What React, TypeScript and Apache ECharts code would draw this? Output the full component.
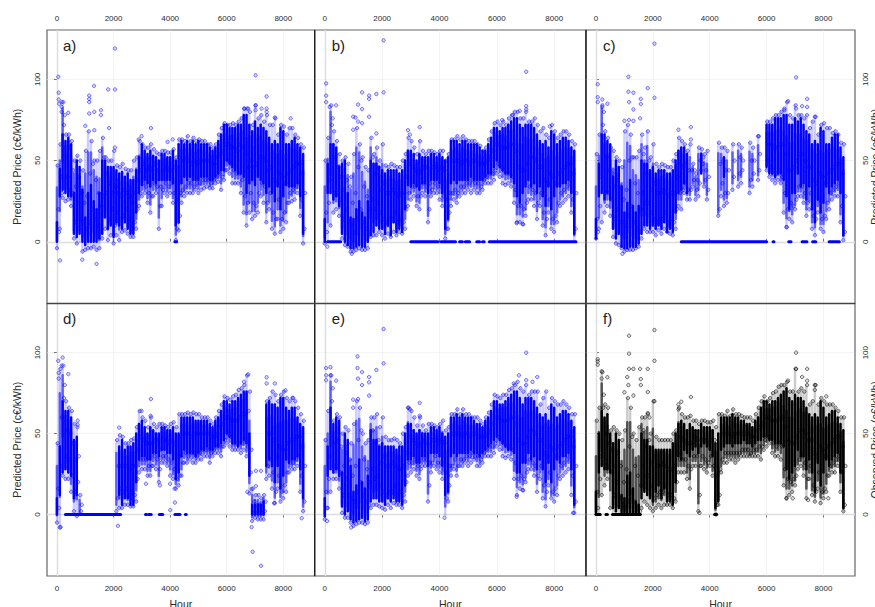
import React, { useEffect, useRef } from "react";
import * as echarts from "echarts";

const xTicks = [0, 2000, 4000, 6000, 8000];
const yTicks = [0, 50, 100];
const panelNames = ["a)", "b)", "c)", "d)", "e)", "f)"];
const coreStep = 100;
const fringeStep = 25;

// dense core of each panel: low and high edge of the solid band, one pair per 100 hours
const coreLoA = [0,28,32,30,28,28,5,3,5,0, -2,0,0,0,0,2,5,15,8,10, 3,12,10,8,12,8,5,5,18,30, 35,38,36,34,38,36,38,38,38,38, 38,36,10,12,36,40,38,40,38,38, 38,40,40,40,38,38,40,42,44,44, 50,48,46,44,42,42,40,30,36,38, 35,40,38,36,30,34,30,25,34,20, 28,35,34,34,34,36,28,5];
const coreHiA = [12,45,66,62,64,60,30,50,46,32, 15,30,35,25,20,30,50,50,46,46, 46,44,42,43,40,42,38,38,44,52, 60,56,54,56,53,52,50,54,54,52, 52,56,50,60,62,60,62,60,62,60, 62,60,60,60,58,56,58,62,66,72, 72,70,70,70,72,72,78,78,72,68, 74,70,72,70,68,64,60,62,60,70, 68,60,60,62,64,60,58,54];
const coreLoB = [0,30,30,26,28,22,5,0,-2,-4, -4,-3,-2,-3,-3,0,4,6,10,8, 8,5,10,4,12,6,8,6,20,35, 34,36,34,32,36,36,30,38,38,38, 36,30,8,14,36,38,36,38,38,38, 38,40,38,38,38,38,40,42,42,46, 50,46,44,42,42,40,36,28,24,30, 34,38,34,36,30,34,28,22,34,20, 28,34,34,36,36,38,30,5];
const coreHiB = [14,48,60,60,58,46,48,50,30,15, 14,20,25,18,15,25,50,48,48,46, 44,42,44,44,44,44,42,44,50,56, 56,54,50,54,52,52,52,54,54,52, 54,52,50,52,62,62,62,60,62,62, 60,60,60,60,58,56,56,60,64,70, 70,68,70,70,72,74,76,76,72,70, 72,72,72,70,66,62,60,62,58,68, 66,60,62,64,64,62,58,56];
const coreLoC = [2,28,30,26,30,26,8,2,5,-3, -4,-4,-3,-3,-3,-1,5,10,10,8, 10,8,10,8,12,6,8,6,18,30, 32,36,30,0,0,0,0,42,0,0, 0,0,0,0,0,40,0,0,0,0, 0,0,0,0,0,0,0,0,0,0, 46,42,42,40,42,42,38,28,20,30, 30,42,34,36,26,34,20,12,26,18, 24,34,30,34,36,38,30,4];
const coreHiC = [14,48,66,66,62,60,40,50,46,34, 18,24,38,22,18,22,50,48,48,44, 46,42,44,44,44,42,42,44,50,56, 58,58,54,0,0,0,0,54,0,0, 0,0,0,0,0,52,0,0,0,0, 0,0,0,0,0,0,0,0,0,0, 72,72,72,76,76,76,78,78,72,72, 76,74,76,72,68,66,60,62,60,70, 68,60,60,64,66,66,58,52];
const coreLoD = [0,12,26,28,26,24,10,12,0,0, 0,0,0,0,0,0,0,0,0,0, 0,0,12,6,10,10,6,6,20,34, 36,36,34,34,38,38,36,40,40,38, 38,34,22,26,36,40,38,38,38,36, 38,40,40,42,40,40,42,42,44,46, 50,48,44,44,42,44,46,44,24,0, 0,0,0,0,30,34,30,20,30,16, 24,34,32,34,34,36,28,10];
const coreHiD = [10,42,70,64,64,60,46,48,0,0, 0,0,0,0,0,0,0,0,0,0, 0,0,42,46,40,42,42,44,50,56, 58,54,50,54,52,50,50,54,54,52, 52,54,50,50,60,60,60,60,60,58, 58,58,58,58,56,54,58,60,64,70, 70,68,70,70,72,74,76,76,50,6, 6,6,6,8,68,70,68,68,66,72, 72,66,64,66,66,60,56,54];
const coreLoE = [-1,24,28,26,28,24,5,0,2,-3, -5,-4,-3,-2,-4,-3,8,10,10,8, 8,6,10,8,10,8,8,6,18,34, 34,36,32,32,36,36,30,38,38,38, 36,30,12,14,36,38,36,38,38,38, 38,40,38,38,36,38,40,42,44,46, 48,46,44,42,40,40,38,26,26,32, 32,38,34,36,28,34,28,20,32,20, 28,34,32,36,36,38,28,6];
const coreHiE = [10,42,66,56,60,58,26,50,46,30, 14,18,34,20,16,24,52,46,46,42, 44,42,42,42,42,40,42,42,50,56, 56,52,50,52,50,50,50,54,54,52, 54,50,48,50,60,60,62,60,62,60, 60,60,58,56,56,54,58,60,64,70, 70,68,68,70,72,74,76,76,72,68, 72,72,72,70,66,62,60,62,58,68, 66,60,62,64,64,62,58,54];
const coreLoF = [0,26,30,28,28,26,4,2,4,0, 0,0,0,0,0,0,10,14,12,10, 8,14,18,10,16,8,8,6,20,36, 34,40,38,36,40,42,38,42,44,42, 40,36,4,8,40,42,44,44,42,44, 44,44,46,44,44,42,44,46,46,48, 48,46,46,44,44,44,42,28,22,26, 30,40,36,36,28,34,26,14,32,18, 26,34,30,34,36,38,26,4];
const coreHiF = [14,50,64,60,62,50,44,50,46,12, 10,24,26,16,8,6,50,46,46,42, 42,40,40,40,40,40,40,44,50,56, 58,56,52,56,54,52,52,56,54,54, 54,52,44,50,60,60,60,60,62,60, 60,58,58,56,56,54,58,60,66,70, 70,68,70,70,72,74,76,78,72,70, 74,72,72,70,66,62,60,62,60,70, 66,60,62,64,64,60,56,52];

// individually sampled values every 25 hours (low, high and inner points of the streaks)
const fringeA = [
-4,47,20,6, 8,60,40,30, 27,86,72,78, 25,66,52,40, 26,66,58,32, 22,62,30,44, 2,50,12,34, -1,53,24,40, 0,50,14,30, -6,44,12,24,
-5,56,8,28, -4,68,12,42, -4,62,20,48, -3,50,14,38, -5,50,10,30, -4,56,6,22, 2,64,28,52, 8,52,30,42, 1,50,14,36, 4,50,20,30,
-1,56,10,34, 4,47,18,30, 1,46,14,28, 6,48,16,32, 7,45,20,30, 5,44,14,28, 3,44,10,24, 3,50,12,30, 8,52,20,38, 22,62,30,44,
28,60,36,48, 30,58,34,44, 24,58,30,46, 18,60,28,44, 28,57,36,48, 30,55,34,44, 8,54,22,34, 22,56,32,44, 30,56,36,46, 28,55,34,44,
30,55,36,44, 24,57,30,46, 1,52,8,26, 7,63,16,30, 24,63,32,50, 28,62,34,52, 30,65,36,50, 30,62,36,48, 30,64,34,50, 32,62,36,48,
30,63,36,50, 32,62,38,50, 33,62,38,50, 34,60,38,50, 33,60,36,48, 33,58,38,48, 36,60,40,52, 37,66,42,54, 32,70,40,56, 38,73,44,60,
44,72,50,60, 42,72,48,58, 36,73,44,58, 36,72,42,56, 36,74,42,60, 30,76,38,58, 18,82,28,54, 10,82,24,46, 18,80,30,50, 14,72,24,46,
16,84,22,48, 18,76,30,52, 28,78,36,52, 24,74,34,50, 12,78,24,44, 20,72,30,46, 8,72,18,38, 5,76,14,36, 14,66,26,42, 6,72,14,40,
8,71,18,36, 12,66,24,42, 24,70,30,44, 25,70,32,46, 26,66,34,48, 30,64,36,48, 16,60,26,42, -1,58,8,30];
const fringeB = [
-1,50,18,6, 0,64,24,38, 10,84,72,76, 18,68,30,52, 20,62,30,46, 16,54,26,40, 2,50,14,32, -2,52,20,38, -3,48,12,34, -6,40,10,24,
-6,54,6,30, -5,70,14,46, -4,60,20,50, -5,52,12,34, -5,46,8,28, -4,44,6,20, 3,64,26,52, 4,54,20,42, 4,58,24,46, 6,50,18,32,
4,60,14,36, 2,47,12,30, 5,46,14,30, 3,48,14,32, 6,47,18,30, 4,46,12,28, 6,46,14,30, 5,50,12,30, 8,54,20,40, 22,64,30,48,
26,62,34,46, 28,58,34,44, 22,54,28,42, 20,62,28,44, 30,56,36,46, 28,54,34,46, 12,56,20,36, 28,56,32,46, 30,55,36,46, 30,54,34,44,
26,56,34,46, 22,56,28,44, 2,50,8,26, 8,54,18,30, 22,63,30,50, 26,63,32,50, 24,65,30,50, 28,63,34,48, 30,65,34,50, 30,63,36,50,
32,62,36,48, 30,62,38,50, 32,62,36,50, 30,60,36,48, 30,59,34,48, 32,56,38,48, 36,58,40,50, 36,63,42,52, 36,68,42,56, 38,73,44,60,
42,74,48,60, 40,72,46,58, 36,74,44,58, 35,72,42,58, 36,76,42,60, 34,78,40,60, 24,80,32,56, 12,80,22,46, 12,76,22,44, 11,76,20,44,
16,80,24,48, 26,74,34,52, 26,74,32,52, 22,76,30,50, 14,72,24,46, 22,68,30,46, 10,70,18,38, 4,66,14,36, 18,64,26,42, 8,72,14,40,
6,68,16,36, 12,64,24,42, 22,66,30,44, 24,68,32,46, 26,68,34,48, 28,66,36,48, 18,62,26,42, 0,60,8,30];
const fringeC = [
2,54,14,6, 8,66,22,40, 12,84,72,80, 18,68,30,52, 22,64,30,44, 16,58,26,42, 3,56,14,34, -1,52,20,38, -2,50,12,34, -4,46,12,26,
-6,68,10,32, -5,72,16,50, -5,66,22,52, -5,52,12,36, -4,52,8,30, -3,56,6,20, 2,66,30,54, 8,58,24,42, 6,68,24,50, 6,52,18,32,
6,60,14,36, 4,48,12,30, 7,46,14,30, 5,48,14,32, 8,47,18,30, 6,46,12,28, 5,46,14,30, 4,50,12,30, 8,54,20,40, 22,64,30,48,
20,62,32,46, 30,60,36,48, 26,56,32,44, 26,60,32,44, 34,48,38,44, 26,42,32,38, 28,58,36,50, 44,57,48,52, 34,54,38,44, 26,56,32,40,
0,0,0,0, 0,0,0,0, 0,0,0,0, 16,61,20,48, 28,58,36,50, 22,58,30,44, 24,56,30,44, 0,0,0,0, 32,60,40,50, 0,0,0,0,
34,60,42,52, 36,58,44,50, 0,0,0,0, 0,0,0,0, 30,61,38,50, 34,58,42,50, 0,0,0,0, 38,65,44,54, 0,0,0,0, 0,0,0,0,
44,74,50,60, 40,74,46,60, 38,76,44,58, 36,78,42,58, 38,78,44,60, 36,80,40,60, 18,82,30,54, 9,86,20,44, 14,78,24,44, 12,76,22,46,
20,84,26,50, 28,78,34,54, 28,78,34,54, 24,76,30,50, 16,78,24,46, 20,70,30,46, 8,74,16,38, 4,77,14,36, 18,66,26,42, 8,72,14,40,
6,73,16,36, 14,70,24,42, 20,70,30,44, 26,67,32,46, 28,68,34,48, 28,66,36,48, 12,61,22,42, 1,60,6,28];
const fringeD = [
-5,44,16,4, -8,90,30,60, 24,92,72,80, 22,70,36,52, 22,66,34,50, 14,64,24,44, 2,56,14,34, -1,54,20,36, 0,12,2,6, 0,0,0,0,
0,0,0,0, 0,0,0,0, 0,0,0,0, 0,0,0,0, 0,0,0,0, 0,0,0,0, 0,0,0,0, 0,0,0,0, 0,0,0,0, 0,0,0,0,
0,0,0,0, 2,46,10,30, 4,49,16,30, 4,48,14,30, 6,44,16,30, 6,44,12,28, 5,46,14,30, 5,47,12,30, 8,54,22,40, 26,64,34,48,
28,60,34,46, 28,58,34,44, 24,54,30,44, 24,60,30,44, 30,56,36,46, 28,54,34,46, 20,56,28,40, 32,56,36,46, 32,55,36,46, 30,54,34,44,
24,56,32,46, 22,57,28,44, 16,54,22,36, 18,62,24,36, 24,62,32,50, 32,62,38,50, 32,63,36,50, 34,62,38,48, 32,63,38,50, 32,62,36,50,
34,62,38,50, 34,60,40,50, 36,60,40,50, 36,60,40,50, 32,58,38,48, 36,56,40,48, 38,60,42,50, 38,64,42,54, 36,68,42,56, 42,73,46,60,
44,72,50,60, 42,71,48,58, 40,73,44,58, 40,74,44,58, 40,77,44,60, 38,78,44,62, 40,80,46,62, 36,86,42,64, 13,76,26,40, -4,16,1,8,
-2,12,1,6, -3,12,1,6, -3,10,1,5, -3,12,2,8, 22,70,30,50, 24,72,34,50, 16,76,26,46, 7,74,14,36, 16,70,24,42, 8,74,14,40,
10,76,18,40, 14,72,26,44, 26,70,32,46, 28,72,32,46, 28,70,34,48, 30,66,36,48, 14,62,24,42, 2,58,8,30];
const fringeE = [
-3,46,14,4, 4,64,22,36, 14,86,70,78, 22,58,30,44, 22,62,30,46, 16,60,26,42, 1,50,12,30, -2,54,22,38, -2,52,12,34, -5,44,10,24,
-7,56,8,30, -6,70,14,46, -5,66,20,52, -5,50,12,34, -6,44,8,28, -5,46,6,20, 4,60,28,52, 6,60,22,44, 6,62,24,46, 5,54,18,32,
4,60,14,36, 3,48,12,30, 6,46,14,30, 4,46,14,32, 7,47,18,30, 6,46,12,28, 6,44,14,28, 4,50,12,30, 8,54,20,38, 24,66,32,48,
26,64,32,46, 28,60,34,44, 24,55,30,42, 22,60,28,44, 30,55,34,46, 30,52,34,44, 8,56,18,32, 26,56,32,46, 30,55,36,46, 28,54,32,44,
26,56,32,46, 22,58,28,44, 0,52,10,26, 8,54,18,30, 24,62,30,50, 28,62,34,50, 24,65,30,50, 30,62,34,48, 30,65,34,50, 32,62,36,50,
30,62,36,48, 32,60,38,50, 34,60,36,50, 30,60,36,48, 30,58,34,48, 32,56,38,48, 36,60,40,50, 36,63,42,52, 36,68,42,56, 38,74,44,60,
42,73,48,60, 40,72,46,58, 36,74,44,58, 35,74,42,58, 36,77,42,60, 34,78,40,60, 22,80,32,56, 12,82,22,46, 16,78,24,44, 15,76,22,44,
20,80,26,48, 28,74,34,52, 28,76,32,52, 24,76,30,50, 14,76,24,46, 22,68,30,46, 10,72,18,38, 5,76,14,36, 18,66,26,42, 10,72,14,40,
8,70,16,36, 12,68,24,42, 22,68,30,44, 24,70,32,46, 26,68,34,48, 28,66,36,48, 12,62,24,42, 1,62,8,30];
const fringeF = [
0,58,14,4, 0,66,22,36, 12,88,66,74, 18,68,30,50, 22,66,30,44, 4,52,26,40, 0,54,12,30, 0,52,20,38, 0,50,10,30, 0,46,6,20,
0,52,4,28, 0,72,8,42, 0,66,14,48, 0,50,8,30, 0,46,4,24, 0,54,2,18, 4,60,30,52, 8,60,24,42, 6,62,24,46, 4,50,18,32,
2,70,10,36, 4,48,12,30, 6,46,14,30, 4,46,14,32, 6,46,18,30, 6,46,12,28, 6,46,12,28, 4,50,10,30, 8,52,20,38, 26,66,34,48,
26,62,34,46, 26,60,34,44, 22,60,30,44, 16,61,28,44, 30,58,36,48, 30,58,36,46, 2,56,12,30, 30,58,36,46, 28,58,34,46, 26,57,32,44,
30,57,36,46, 24,58,30,46, 0,54,6,24, 6,62,12,28, 26,62,34,50, 32,61,38,50, 32,64,38,50, 34,61,38,48, 34,65,38,50, 32,62,38,50,
34,62,38,50, 36,61,40,50, 36,60,40,50, 36,60,40,50, 36,60,38,48, 36,58,40,48, 36,62,40,52, 36,66,42,54, 34,70,42,56, 40,73,46,60,
42,70,48,60, 44,72,48,58, 38,75,44,58, 36,76,42,58, 36,79,44,60, 34,80,42,60, 18,80,28,54, 10,82,22,46, 12,76,20,44, 14,76,22,44,
18,90,24,48, 28,76,34,52, 30,78,36,52, 24,76,32,50, 10,80,22,46, 22,68,30,46, 12,70,18,38, 8,80,14,36, 16,68,26,42, 7,72,14,40,
10,70,16,36, 14,68,24,42, 24,68,30,44, 26,68,32,46, 26,66,34,48, 30,64,36,48, 14,60,26,42, 2,60,6,30];

// isolated points, [hour, value]
const outliersA = [[47,101.6],[60,91.8],[60,87.6],[80,85],[165,86],[165,83],[165,80],[400,79.4],[1310,96],[1140,90],[1140,88],[1140,86],[1810,93.8],[2050,93.8],[2050,119],[7020,102.5],[7410,89.5],[7020,84],[7020,81],[6620,82],[6760,82],[7230,82],[7410,82],[7410,80],[8260,76],[7700,76.5],[1400,-13.6],[106,-11.5],[895,-11],[3320,70],[2990,65],[2890,63],[3910,61.5],[4090,63],[1840,70],[1555,81],[1555,78],[1000,71.4],[1140,79],[1320,80],[1320,68.7],[2050,58]];
const outliersB = [[47,97.5],[47,90],[47,86],[170,83],[395,84],[990,77],[1070,76.5],[990,69],[1160,84.5],[1300,92],[1300,81.7],[1545,90],[1545,88],[1545,77],[1800,91],[2050,92],[2050,124],[7025,104.7],[7025,83.5],[7025,81.5],[6800,80.6],[6570,78],[2900,68.7],[3310,70.6],[2965,66],[6190,75],[7850,71],[1800,66.7],[1300,73],[1160,74],[940,-7.4],[90,-3],[6690,11.5],[6920,10.7]];
const outliersC = [[59,97],[59,89],[59,86],[223,87.6],[400,85],[223,83],[1140,101.6],[1140,92.4],[1316,91.8],[1163,86],[1316,81.5],[1820,94.6],[2056,88.7],[2056,122],[1575,88],[1575,84.8],[1550,76],[1000,74.5],[1163,75],[1316,74.5],[7038,101.2],[6756,86.6],[7426,88],[7426,83],[7250,83.5],[7038,82],[6627,81],[7696,77],[2900,69],[3337,70.6],[3337,63],[5700,65],[6710,9],[928,-7.4]];
const outliersD = [[47,95],[200,97],[400,86.8],[165,92],[60,87.5],[60,84],[730,58],[730,55.5],[6760,86.6],[6610,82],[7410,84.8],[7700,81],[7410,81],[3320,71.4],[2990,64],[2200,53.7],[6915,-23],[7210,-31.7],[130,-7.8],[2155,-7],[6880,-7.8],[8650,-2.3],[4005,2.7],[4170,7.4],[3145,19],[3640,18],[6880,15.8],[7030,17.5],[7030,27],[7210,27],[6730,14],[7670,7],[4000,19],[4158,16],[3310,61],[8080,76.7],[8350,72]];
const outliersE = [[2050,114.6],[7025,100],[1140,97.7],[47,90.5],[198,91],[395,82.7],[47,86],[47,83],[198,86],[1140,90.5],[1300,88],[1160,84],[1300,80],[1545,85],[1545,81.7],[1800,89.3],[2050,93.4],[1545,73.5],[990,71],[1160,71.4],[990,66],[6770,86],[7410,85],[7025,83],[6590,81],[7245,82],[3310,69],[2900,66],[2965,65],[3310,61],[6690,11],[6920,15],[4175,-2],[8660,1],[920,-8],[80,-4]];
const outliersF = [[59,96],[59,94.6],[59,92.6],[1163,110.5],[2056,114],[1163,99.4],[7038,100],[1163,90],[1316,90],[1550,90],[1820,90],[2056,95],[400,84.8],[200,88.5],[200,84],[1100,85],[1140,80],[1316,73.5],[1575,83.7],[1575,80],[1000,75.5],[1820,75.7],[2056,70],[3337,72.6],[2900,65],[2900,68],[3000,69.7],[7038,90],[7426,90],[7250,85],[7426,82.7],[6756,82.7],[7696,80],[7696,77],[8100,73],[1820,62.7],[1880,60],[4220,0],[3640,1],[6700,10],[6920,10],[7460,9],[8170,10]];

// runs of predictions that sit on zero, [first hour, last hour]
const zeroRunsA: number[][] = [[4170,4230]];
const zeroRunsB = [[100,550],[3000,3950],[4050,4560],[4700,4800],[4900,5050],[5300,5400],[5500,5560],[5740,6000],[6050,8760]];
const zeroRunsC = [[3000,6000],[6230,6260],[6780,6860],[7250,7420],[7620,7730],[8200,8560]];
const zeroRunsD = [[300,2250],[3130,3170],[3240,3330],[3620,3740],[4170,4350],[4540,4570]];
const zeroRunsE: number[][] = [];
const zeroRunsF = [[0,150],[350,400],[580,1560],[4170,4240]];

const coreLo = [coreLoA, coreLoB, coreLoC, coreLoD, coreLoE, coreLoF];
const coreHi = [coreHiA, coreHiB, coreHiC, coreHiD, coreHiE, coreHiF];
const fringes = [fringeA, fringeB, fringeC, fringeD, fringeE, fringeF];
const outliers = [outliersA, outliersB, outliersC, outliersD, outliersE, outliersF];
const zeroRuns = [zeroRunsA, zeroRunsB, zeroRunsC, zeroRunsD, zeroRunsE, zeroRunsF];

const colEdges = [47, 314.7, 586, 855];
const rowEdges = [30, 303.5, 576];
const textColor = "#2a2a2a";
const font = "Liberation Sans";

function stripSeries(p: number, data: number[][], z: number, stroke: string, lineWidth: number, extra: any = {}) {
  return {
    type: "custom", xAxisIndex: p, yAxisIndex: p, z, data, silent: true,
    encode: { x: 0, y: [1, 2] },
    renderItem: (_: any, api: any) => {
      const a = api.coord([api.value(0), api.value(1)]);
      const b = api.coord([api.value(0), api.value(2)]);
      return { type: "line", shape: { x1: a[0], y1: a[1], x2: b[0], y2: b[1] }, style: { stroke, lineWidth, lineCap: "round" } };
    },
    ...extra,
  };
}

function buildOption() {
  const grids: any[] = [], xAxes: any[] = [], yAxes: any[] = [], series: any[] = [], graphics: any[] = [];
  for (let p = 0; p < 6; p++) {
    const col = p % 3;
    const row = p < 3 ? 0 : 1;
    const stroke = p === 5 ? "#000000" : "#0000ff";
    const outerHaze = p === 5 ? "rgba(0,0,0,0.2)" : "rgba(0,0,255,0.2)";
    const haze = p === 5 ? "rgba(0,0,0,0.6)" : "rgba(0,0,255,0.55)";
    const ring = p === 5 ? "rgba(0,0,0,0.85)" : "rgba(0,0,255,0.8)";
    const fill = p === 5 ? "rgba(0,0,0,0.15)" : "rgba(0,0,255,0.2)";
    grids.push({
      show: true, left: colEdges[col], width: colEdges[col + 1] - colEdges[col],
      top: rowEdges[row], height: rowEdges[row + 1] - rowEdges[row], outerBoundsMode: "none",
      borderColor: "#666666", borderWidth: 1.2, backgroundColor: "#ffffff",
    });
    xAxes.push({
      type: "value", gridIndex: p, min: -352, max: 9110, position: row === 0 ? "top" : "bottom",
      axisLine: { show: false },
      axisTick: { length: 3, customValues: xTicks, lineStyle: { color: "#555555", width: 0.8 } },
      axisLabel: { customValues: xTicks, formatter: (v: number) => String(v), fontSize: 8, margin: 8, color: textColor, fontFamily: font },
      splitLine: { show: true, lineStyle: { color: "#e2e2e2", type: "dotted", width: 0.8 } },
      name: row === 1 ? "Hour" : "", nameLocation: "middle", nameGap: 22,
      nameTextStyle: { fontSize: 10.5, color: textColor, fontFamily: font },
    });
    const showY = col !== 1;
    yAxes.push({
      type: "value", gridIndex: p, min: -38, max: 130.4, position: col === 2 ? "right" : "left",
      axisLine: { show: false },
      axisTick: { show: showY, length: 3, customValues: yTicks, lineStyle: { color: "#555555", width: 0.8 } },
      axisLabel: { show: showY, customValues: yTicks, rotate: 90, fontSize: 8, margin: 6, color: textColor, fontFamily: font },
      splitLine: { show: true, lineStyle: { color: "#e2e2e2", type: "dotted", width: 0.8 } },
      name: !showY ? "" : p === 5 ? "Observed Price (c€/kWh)" : "Predicted Price (c€/kWh)",
      nameLocation: "middle", nameGap: col === 2 ? 12 : 25, nameRotate: 90,
      nameTextStyle: { fontSize: 10.5, color: textColor, fontFamily: font },
    });
    const outerSpread: number[][] = [];
    const innerSpread: number[][] = [];
    for (let i = 0; i + 3 < fringes[p].length; i += 4) {
      const s = fringes[p].slice(i, i + 4).sort((a, b) => a - b);
      if (s[0] === s[3]) continue;
      const h = (i / 4) * coreStep;
      outerSpread.push([h, s[0], s[3]]);
      innerSpread.push([h, (s[0] + s[1]) / 2, (s[2] + s[3]) / 2]);
    }
    series.push(stripSeries(p, outerSpread, 2, outerHaze, 2.5, {
      markLine: {
        silent: true, symbol: "none", z: 1, label: { show: false }, animation: false,
        lineStyle: { color: "#dddddd", type: "solid", width: 1.4 },
        data: [{ yAxis: 0 }, { xAxis: 0 }],
      },
    }));
    series.push(stripSeries(p, innerSpread, 2, haze, 2.5));
    const strips = coreLo[p].map((lo, i) => [i * coreStep, lo, coreHi[p][i]]).filter((d) => d[1] !== d[2]);
    series.push(stripSeries(p, strips, 3, stroke, 2.5));
    series.push({
      type: "custom", xAxisIndex: p, yAxisIndex: p, z: 4, data: zeroRuns[p], silent: true,
      encode: { x: [0, 1] },
      renderItem: (_: any, api: any) => {
        const a = api.coord([api.value(0), 0]);
        const b = api.coord([api.value(1), 0]);
        return { type: "line", shape: { x1: a[0], y1: a[1], x2: b[0], y2: b[1] }, style: { stroke, lineWidth: 3, lineCap: "round" } };
      },
    });
    const pts = fringes[p].map((v, i) => [i * fringeStep, v]).filter((d) => d[1] !== 0);
    series.push({
      type: "scatter", xAxisIndex: p, yAxisIndex: p, z: 5, silent: true, symbol: "circle", symbolSize: 3.4,
      data: pts.concat(outliers[p]), large: false,
      itemStyle: { color: fill, borderColor: ring, borderWidth: 0.8 },
    });
    graphics.push({
      type: "text", x: colEdges[col] + (col === 0 ? 16 : 17), y: rowEdges[row] + (row === 0 ? 8 : 7),
      z: 50, style: { text: panelNames[p], fontSize: 15, fill: "#222222", fontFamily: font },
    });
  }
  for (const x of [colEdges[1], colEdges[2]]) {
    graphics.push({ type: "line", z: 40, shape: { x1: x, y1: 30, x2: x, y2: 576 }, style: { stroke: "#1c1c1c", lineWidth: 1.3 } });
  }
  graphics.push({ type: "line", z: 40, shape: { x1: 47, y1: 303.5, x2: 855, y2: 303.5 }, style: { stroke: "#444444", lineWidth: 1.4 } });
  return { animation: false, backgroundColor: "#ffffff", grid: grids, xAxis: xAxes, yAxis: yAxes, series, graphic: graphics };
}

export default function App() {
  const ref = useRef<HTMLDivElement>(null);
  useEffect(() => {
    document.body.style.margin = "0";
    const chart = echarts.init(ref.current!, undefined, { renderer: "svg" });
    chart.setOption(buildOption() as any);
    return () => chart.dispose();
  }, []);
  return <div ref={ref} style={{ width: 875, height: 607, overflow: "hidden" }} />;
}
